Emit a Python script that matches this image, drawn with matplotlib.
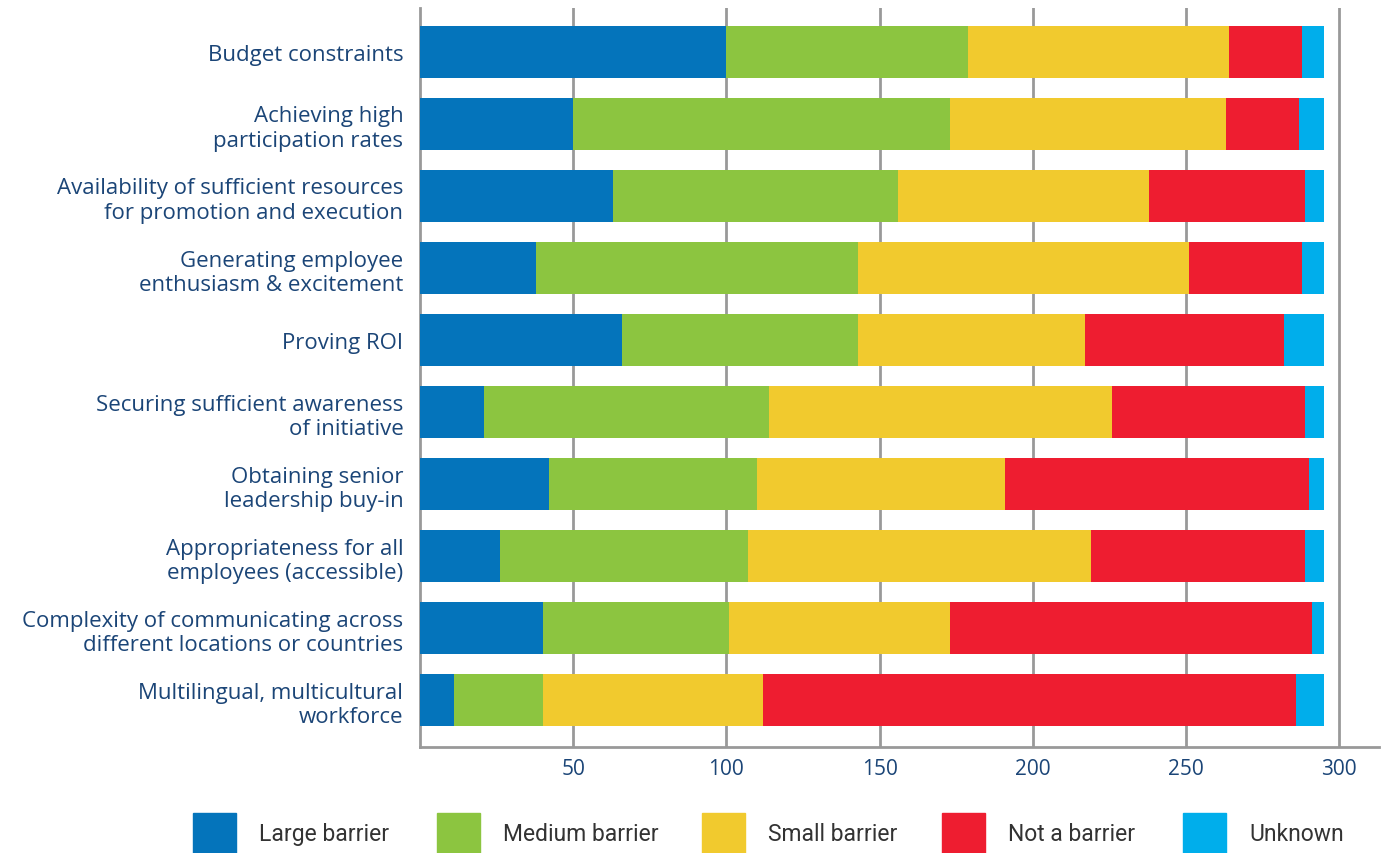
import matplotlib.pyplot as plt
from matplotlib.patches import Rectangle

# barreiras por categoria (numero de respostas)
categorias = ['Budget constraints',
              'Achieving high\nparticipation rates',
              'Availability of sufficient resources\nfor promotion and execution',
              'Generating employee\nenthusiasm & excitement',
              'Proving ROI',
              'Securing sufficient awareness\nof initiative',
              'Obtaining senior\nleadership buy-in',
              'Appropriateness for all\nemployees (accessible)',
              'Complexity of communicating across\ndifferent locations or countries',
              'Multilingual, multicultural\nworkforce']
large = [100, 50, 63, 38, 66, 21, 42, 26, 40, 11]
medium = [79, 123, 93, 105, 77, 93, 68, 81, 61, 29]
small = [85, 90, 82, 108, 74, 112, 81, 112, 72, 72]
not_barrier = [24, 24, 51, 37, 65, 63, 99, 70, 118, 174]
unknown = [7, 8, 6, 7, 13, 6, 5, 6, 4, 9]

series = ['Large barrier', 'Medium barrier', 'Small barrier', 'Not a barrier', 'Unknown']
valores = [large, medium, small, not_barrier, unknown]
cores = ['#0474BB', '#8CC540', '#F1CA2E', '#EE1D30', '#00AEEB']
xticks = [50, 100, 150, 200, 250, 300]

navy = '#1B4577'
grid_cor = '#999999'

W, H = 1381, 854
fig = plt.figure(figsize=(W / 100, H / 100), dpi=100)
ax = fig.add_axes([420 / W, 1 - 748 / H, (1379 - 420) / W, (748 - 9) / H])

pos = list(range(len(categorias)))
esq = [0] * len(categorias)
for nome, vals, cor in zip(series, valores, cores):
    ax.barh(pos, vals, left=esq, height=0.72, color=cor, label=nome, zorder=3)
    esq = [a + b for a, b in zip(esq, vals)]

ax.set_xlim(0, 313)
ax.set_ylim(9.65, -0.61)
ax.set_yticks(pos)
ax.set_yticklabels(categorias, fontsize=16, color=navy, family='Open Sans',
                   linespacing=1.2)
ax.set_xticks(xticks)
ax.set_xticklabels([str(t) for t in xticks], fontsize=15, color=navy,
                   family='Open Sans')
ax.tick_params(axis='y', length=0, pad=12)
ax.tick_params(axis='x', length=0, pad=8)

ax.grid(axis='x', color=grid_cor, linewidth=2, zorder=0)
for lado in ['top', 'right']:
    ax.spines[lado].set_visible(False)
for lado in ['left', 'bottom']:
    ax.spines[lado].set_color(grid_cor)
    ax.spines[lado].set_linewidth(2)

# legenda manual embaixo
patch_x = [193, 437, 702, 942, 1183]
for x, nome, cor in zip(patch_x, series, cores):
    fig.add_artist(Rectangle((x / W, 0), 43 / W, 40 / H, color=cor,
                             transform=fig.transFigure))
    fig.text((x + 66) / W, 1 - 835 / H, nome, fontsize=16.5, color='#333333',
             va='center', ha='left', family='Roboto')

fig.savefig('out.png', dpi=100)
